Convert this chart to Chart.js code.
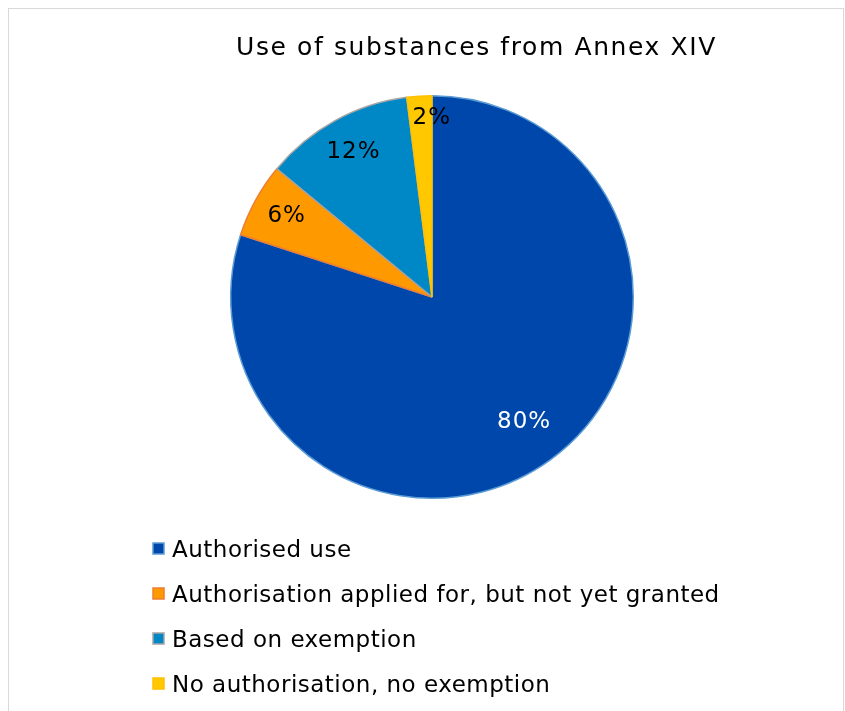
<!DOCTYPE html>
<html>
<head>
<meta charset="utf-8">
<title>Use of substances from Annex XIV</title>
<script src="https://cdn.jsdelivr.net/npm/chart.js@4.4.1/dist/chart.umd.min.js"></script>
<style>
  html, body { margin: 0; padding: 0; background: #fff; }
  #wrap { position: relative; width: 845px; height: 711px; overflow: hidden; }
  #frame { position: absolute; left: 8px; top: 8px; width: 834px; height: 720px; border: 1px solid #d9d9d9; }
  #chart { position: absolute; left: 0; top: 0; }
</style>
</head>
<body>
<div id="wrap">
  <div id="frame"></div>
  <canvas id="chart" width="845" height="711"></canvas>
</div>
<script>
// Annex XIV substance use, shares in percent
const categories = [
  "Authorised use",
  "Authorisation applied for, but not yet granted",
  "Based on exemption",
  "No authorisation, no exemption"
];
const shares = [80, 6, 12, 2];
const fillColors = ["#0047ab", "#ff9900", "#0088c6", "#ffc800"];
const edgeColors = ["#5b9bd5", "#ed7d31", "#a5a5a5", "#ffc000"];
const labelColors = ["#ffffff", "#000000", "#000000", "#000000"];
const chartTitle = "Use of substances from Annex XIV";

const FONT = "'DejaVu Sans', Verdana, sans-serif";

// draws title, in-slice percentages and the stacked legend
const decorations = {
  id: "decorations",
  afterDraw(chart) {
    const ctx = chart.ctx;
    ctx.save();

    // title
    ctx.fillStyle = "#000";
    ctx.font = "25px " + FONT;
    ctx.letterSpacing = "1.6px";
    ctx.textAlign = "left";
    ctx.textBaseline = "alphabetic";
    ctx.fillText(chartTitle, 236, 55);

    // percentage labels inside slices (the thin one sits a bit to the right)
    const meta = chart.getDatasetMeta(0);
    const radial = [0.77, 0.83, 0.82, 0.89];
    const nudgeX = [0, 0, 0, 10];
    ctx.font = "23px " + FONT;
    ctx.letterSpacing = "1px";
    ctx.textAlign = "center";
    ctx.textBaseline = "middle";
    meta.data.forEach((arc, i) => {
      const p = arc.getProps(["x", "y", "startAngle", "endAngle", "outerRadius"], true);
      const mid = (p.startAngle + p.endAngle) / 2;
      const r = p.outerRadius * radial[i];
      ctx.fillStyle = labelColors[i];
      ctx.fillText(shares[i] + "%", p.x + Math.cos(mid) * r + nudgeX[i] + 1, p.y + Math.sin(mid) * r);
    });

    // legend, one entry per row
    ctx.font = "23px " + FONT;
    ctx.letterSpacing = "0.5px";
    ctx.textAlign = "left";
    ctx.textBaseline = "alphabetic";
    categories.forEach((name, i) => {
      const y = 557 + i * 45;
      ctx.fillStyle = fillColors[i];
      ctx.fillRect(153, y - 14, 11, 11);
      ctx.strokeStyle = edgeColors[i];
      ctx.lineWidth = 1.5;
      ctx.strokeRect(153, y - 14, 11, 11);
      ctx.fillStyle = "#000";
      ctx.fillText(name, 172, y);
    });

    ctx.restore();
  }
};

new Chart(document.getElementById("chart"), {
  type: "pie",
  data: {
    labels: categories,
    datasets: [{
      data: shares,
      backgroundColor: fillColors,
      borderColor: edgeColors,
      borderWidth: 1.5
    }]
  },
  options: {
    responsive: false,
    animation: false,
    layout: {
      padding: { left: 230, right: 211, top: 95, bottom: 212 }
    },
    plugins: {
      legend: { display: false },
      title: { display: false },
      tooltip: { enabled: false }
    }
  },
  plugins: [decorations]
});
</script>
</body>
</html>
